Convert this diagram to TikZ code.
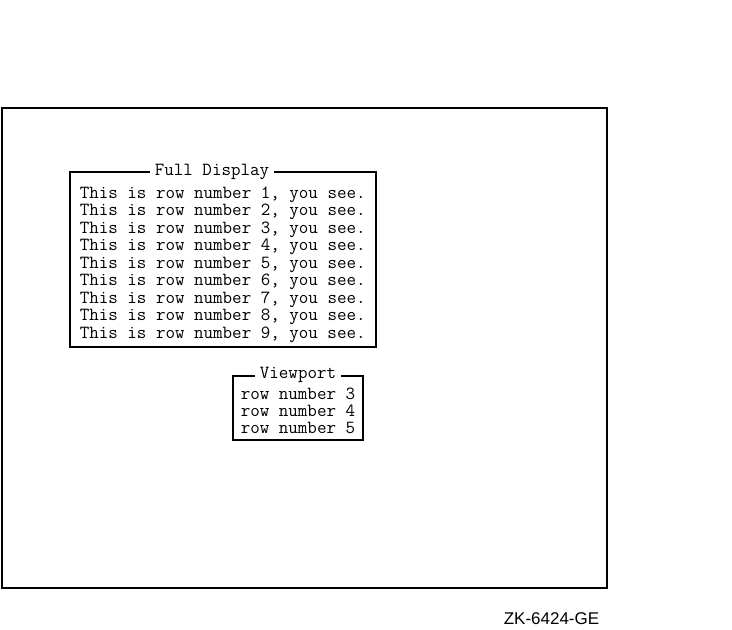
\documentclass[tikz,border=0pt]{standalone}
\usepackage{fontspec}
\setsansfont{Liberation Sans}
\tikzset{
  row/.style={anchor=base west, inner sep=0pt, font=\ttfamily\fontsize{18.5}{17}\selectfont},
  title/.style={anchor=base, fill=white, inner xsep=5pt, inner ysep=2pt, font=\ttfamily\fontsize{18.5}{17}\selectfont},
}
\begin{document}
\begin{tikzpicture}[x=1pt,y=-1pt,line width=1.6pt]
\useasboundingbox (0,0) rectangle (732,630);
% screen
\draw (2,108) rectangle (607,588);
% full display
\draw (70,172) rectangle (376,347);
\node [title] (full) at (212,175) {Full Display};
\foreach \i in {1,...,9}
  \node [row] (fr\i) at (79,{198+(\i-1)*17.5}) {This is row number \i, you see.};
% viewport
\draw (233,376) rectangle (363,440);
\node [title] (view) at (298,378.5) {Viewport};
\foreach \i/\n in {0/3,1/4,2/5}
  \node [row] (vr\n) at (240,{399+\i*17.3}) {row number \n};
\node [anchor=base east, inner sep=0pt, font=\sffamily\fontsize{17}{17}\selectfont] (code) at (600,624.5) {ZK-6424-GE};
\end{tikzpicture}
\end{document}
